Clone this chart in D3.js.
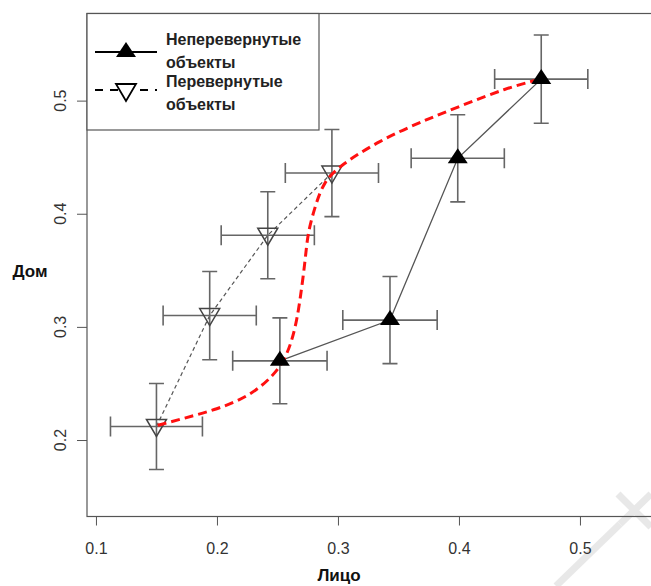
<!DOCTYPE html>
<html>
<head>
<meta charset="utf-8">
<script src="https://cdn.jsdelivr.net/npm/d3@7"></script>
<style>
  body { margin: 0; background: #fff; }
  svg { display: block; }
</style>
</head>
<body>
<div id="chart"></div>
<script>
// данные
let upX = [0.252, 0.343, 0.399, 0.468];
let upY = [0.270, 0.306, 0.449, 0.519];
let upXErr = [0.039, 0.039, 0.0385, 0.0385];
let upYErr = [0.038, 0.0385, 0.0385, 0.039];

let invX = [0.150, 0.194, 0.242, 0.295];
let invY = [0.212, 0.310, 0.381, 0.436];
let invXErr = [0.038, 0.0385, 0.0385, 0.0385];
let invYErr = [0.038, 0.039, 0.0385, 0.0385];

// красная кривая
let curveX = [0.151, 0.172, 0.200, 0.227, 0.246, 0.256, 0.262, 0.266, 0.269, 0.273, 0.275, 0.281, 0.288, 0.302, 0.335, 0.368, 0.403, 0.439, 0.467];
let curveY = [0.213, 0.219, 0.227, 0.239, 0.256, 0.271, 0.288, 0.306, 0.326, 0.359, 0.383, 0.406, 0.428, 0.443, 0.465, 0.481, 0.496, 0.511, 0.519];

let xTicks = [0.1, 0.2, 0.3, 0.4, 0.5];
let yTicks = [0.2, 0.3, 0.4, 0.5];

let legendLabels = [["Неперевернутые", "объекты"], ["Перевернутые", "объекты"]];

let width = 651;
let height = 586;
let mLeft = 87, mTop = 13.5, mBottom = 516.5;

let x = d3.scaleLinear()
  .domain([0.0926, 0.575])
  .range([mLeft, mLeft + (0.575 - 0.0926) * 1210]);

let y = d3.scaleLinear()
  .domain([0.1324, 0.577])
  .range([mBottom, mTop]);

let svg = d3.select("#chart").append("svg")
  .attr("width", width)
  .attr("height", height);

// водяной знак
svg.append("g")
  .attr("stroke", "#e8e8e8")
  .attr("stroke-width", 7)
  .selectAll("line")
  .data([[556, 586, 620, 524], [620, 524, 651, 494], [618, 494, 651, 527]])
  .enter().append("line")
  .attr("x1", d => d[0]).attr("y1", d => d[1])
  .attr("x2", d => d[2]).attr("y2", d => d[3]);

// оси
let xAxis = svg.append("g")
  .attr("transform", "translate(0," + mBottom + ")")
  .call(d3.axisBottom(x).tickValues(xTicks).tickSize(9).tickPadding(17).tickFormat(d3.format(".1f")));
xAxis.select(".domain").remove();
xAxis.selectAll("line").attr("stroke", "#555");
xAxis.selectAll("text")
  .attr("fill", "#333")
  .style("font-family", "Liberation Sans, Arial, sans-serif")
  .style("font-size", "16px");

let yAxis = svg.append("g")
  .attr("transform", "translate(" + mLeft + ",0)")
  .call(d3.axisLeft(y).tickValues(yTicks).tickSize(10).tickFormat(""));
yAxis.select(".domain").remove();
yAxis.selectAll("line").attr("stroke", "#555");

svg.append("g").selectAll("text")
  .data(yTicks)
  .enter().append("text")
  .attr("transform", d => "translate(66," + y(d) + ") rotate(-90)")
  .attr("text-anchor", "middle")
  .attr("fill", "#333")
  .style("font-family", "Liberation Sans, Arial, sans-serif")
  .style("font-size", "16px")
  .text(d3.format(".1f"));

svg.append("text")
  .attr("x", 339)
  .attr("y", 581)
  .attr("text-anchor", "middle")
  .style("font-family", "Liberation Sans, Arial, sans-serif")
  .style("font-size", "17px")
  .style("font-weight", "bold")
  .attr("fill", "#111")
  .text("Лицо");

svg.append("text")
  .attr("x", 30)
  .attr("y", 277)
  .attr("text-anchor", "middle")
  .style("font-family", "Liberation Sans, Arial, sans-serif")
  .style("font-size", "17px")
  .style("font-weight", "bold")
  .attr("fill", "#111")
  .text("Дом");

// рамка
svg.append("rect")
  .attr("x", mLeft)
  .attr("y", mTop)
  .attr("width", x.range()[1] - mLeft)
  .attr("height", mBottom - mTop)
  .attr("fill", "none")
  .attr("stroke", "#555")
  .attr("stroke-width", 1.2);

let up = upX.map((v, i) => ({x: v, y: upY[i], ex: upXErr[i], ey: upYErr[i]}));
let inv = invX.map((v, i) => ({x: v, y: invY[i], ex: invXErr[i], ey: invYErr[i]}));

let line = d3.line().x(d => x(d.x)).y(d => y(d.y));

svg.append("path")
  .attr("d", line(up))
  .attr("fill", "none")
  .attr("stroke", "#555")
  .attr("stroke-width", 1.3);

svg.append("path")
  .attr("d", line(inv))
  .attr("fill", "none")
  .attr("stroke", "#555")
  .attr("stroke-width", 1.2)
  .attr("stroke-dasharray", "4,3");

// усы ошибок
function errorBars(data) {
  let g = svg.append("g")
    .attr("stroke", "#666")
    .attr("stroke-width", 1.6)
    .attr("fill", "none");
  data.forEach(function(d) {
    let cx = x(d.x), cy = y(d.y);
    let x0 = x(d.x - d.ex), x1 = x(d.x + d.ex);
    let y0 = y(d.y - d.ey), y1 = y(d.y + d.ey);
    g.append("path").attr("d",
      "M" + x0 + "," + cy + "H" + x1 +
      "M" + x0 + "," + (cy - 10) + "V" + (cy + 10) +
      "M" + x1 + "," + (cy - 10) + "V" + (cy + 10) +
      "M" + cx + "," + y0 + "V" + y1 +
      "M" + (cx - 7.5) + "," + y0 + "H" + (cx + 7.5) +
      "M" + (cx - 7.5) + "," + y1 + "H" + (cx + 7.5));
  });
}
errorBars(up);
errorBars(inv);

function triUp(cx, cy) {
  return "M" + cx + "," + (cy - 10) + "L" + (cx + 10) + "," + (cy + 5) + "L" + (cx - 10) + "," + (cy + 5) + "Z";
}
function triDown(cx, cy) {
  return "M" + (cx - 10) + "," + (cy - 7) + "L" + (cx + 10) + "," + (cy - 7) + "L" + cx + "," + (cy + 10) + "Z";
}

svg.append("g").selectAll("path")
  .data(inv)
  .enter().append("path")
  .attr("d", d => triDown(x(d.x), y(d.y)))
  .attr("fill", "none")
  .attr("stroke", "#444")
  .attr("stroke-width", 1.5);

// красная пунктирная кривая
let curvePts = curveX.map((v, i) => ({x: v, y: curveY[i]}));
svg.append("path")
  .attr("d", line.curve(d3.curveBasis)(curvePts))
  .attr("fill", "none")
  .attr("stroke", "#ff1010")
  .attr("stroke-width", 3)
  .attr("stroke-dasharray", "9,5");

svg.append("g").selectAll("path")
  .data(up)
  .enter().append("path")
  .attr("d", d => triUp(x(d.x), y(d.y)))
  .attr("fill", "#000");

// легенда
let lg = svg.append("g");
lg.append("rect")
  .attr("x", mLeft)
  .attr("y", mTop)
  .attr("width", 319 - mLeft)
  .attr("height", 130 - mTop)
  .attr("fill", "#fff")
  .attr("stroke", "#555")
  .attr("stroke-width", 1.2);

lg.append("line")
  .attr("x1", 95).attr("x2", 157).attr("y1", 52).attr("y2", 52)
  .attr("stroke", "#000").attr("stroke-width", 2);
lg.append("path").attr("d", triUp(126, 52)).attr("fill", "#000");

lg.append("line")
  .attr("x1", 95).attr("x2", 157).attr("y1", 90).attr("y2", 90)
  .attr("stroke", "#000").attr("stroke-width", 2)
  .attr("stroke-dasharray", "8,7");
lg.append("path").attr("d", triDown(126, 91))
  .attr("fill", "#fff").attr("stroke", "#000").attr("stroke-width", 1.8);

let baselines = [[45, 68], [87, 110]];
legendLabels.forEach(function(lines, i) {
  lines.forEach(function(t, j) {
    lg.append("text")
      .attr("x", 166)
      .attr("y", baselines[i][j])
      .style("font-family", "Liberation Sans, Arial, sans-serif")
      .style("font-size", "16px")
      .style("font-weight", "bold")
      .attr("fill", "#222")
      .text(t);
  });
});
</script>
</body>
</html>
